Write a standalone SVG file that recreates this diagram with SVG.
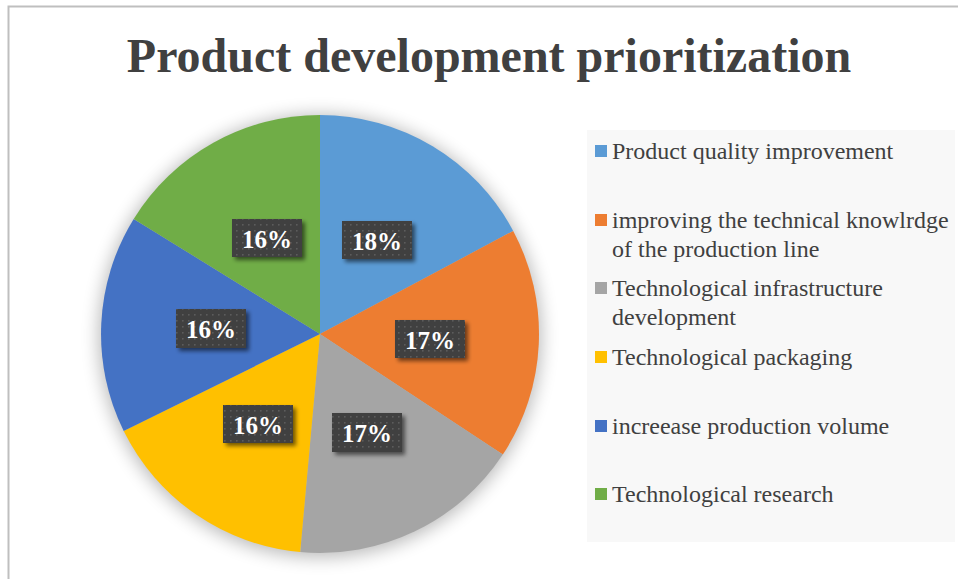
<svg xmlns="http://www.w3.org/2000/svg" width="958" height="579" viewBox="0 0 958 579">
  <style>
    .title { font-family: "Liberation Serif", "Times New Roman", serif; font-weight: bold; font-size: 48px; fill: #404040; }
    .lbl { font-family: "Liberation Serif", "Times New Roman", serif; font-weight: bold; font-size: 25px; fill: #ffffff; }
    .leg { font-family: "Liberation Serif", "Times New Roman", serif; font-size: 24px; fill: #404040; }
    .box { fill: url(#dots); filter: url(#boxShadow); }
  </style>
  <defs>
    <pattern id="dots" x="0" y="0" width="6" height="6" patternUnits="userSpaceOnUse">
      <rect width="6" height="6" fill="#404040"/>
      <rect x="2" y="2" width="1.6" height="1.6" fill="#5c5c5c"/>
    </pattern>
    <filter id="pieShadow" x="-20%" y="-20%" width="140%" height="140%">
      <feGaussianBlur stdDeviation="9"/>
    </filter>
    <filter id="boxShadow" x="-20%" y="-30%" width="150%" height="170%">
      <feGaussianBlur in="SourceAlpha" stdDeviation="2"/>
      <feOffset dx="3" dy="3" result="b"/>
      <feComponentTransfer><feFuncA type="linear" slope="0.55"/></feComponentTransfer>
      <feMerge><feMergeNode/><feMergeNode in="SourceGraphic"/></feMerge>
    </filter>
  </defs>

  <rect x="0" y="0" width="958" height="579" fill="#ffffff"/>
  <!-- chart border -->
  <path d="M8.5 579 V6.5 H958" fill="none" stroke="#bfbfbf" stroke-width="2"/>

  <text class="title" x="489" y="72" text-anchor="middle">Product development prioritization</text>

  <!-- pie shadow -->
  <circle cx="320" cy="336" r="221" fill="#000000" opacity="0.28" filter="url(#pieShadow)"/>

  <g id="pie">
    <g id="slice-quality"><path d="M320 334 L320 115 A219 219 0 0 1 513.2 230.9 Z" fill="#5B9BD5"/></g>
    <g id="slice-knowledge"><path d="M320 334 L513.2 230.9 A219 219 0 0 1 502.8 454.6 Z" fill="#ED7D31"/></g>
    <g id="slice-infrastructure"><path d="M320 334 L502.8 454.6 A219 219 0 0 1 300.2 552.1 Z" fill="#A5A5A5"/></g>
    <g id="slice-packaging"><path d="M320 334 L300.2 552.1 A219 219 0 0 1 123.7 431 Z" fill="#FFC000"/></g>
    <g id="slice-volume"><path d="M320 334 L123.7 431 A219 219 0 0 1 133.7 218.9 Z" fill="#4472C4"/></g>
    <g id="slice-research"><path d="M320 334 L133.7 218.9 A219 219 0 0 1 320 115 Z" fill="#70AD47"/></g>
  </g>

  <g id="data-labels">
    <g id="label-quality"><rect class="box" x="342" y="221" width="70" height="38"/><text class="lbl" x="377" y="250" text-anchor="middle">18%</text></g>
    <g id="label-knowledge"><rect class="box" x="395" y="320" width="70" height="38"/><text class="lbl" x="430" y="349" text-anchor="middle">17%</text></g>
    <g id="label-infrastructure"><rect class="box" x="332" y="413" width="70" height="39"/><text class="lbl" x="367" y="442" text-anchor="middle">17%</text></g>
    <g id="label-packaging"><rect class="box" x="223" y="405" width="70" height="38"/><text class="lbl" x="258" y="434" text-anchor="middle">16%</text></g>
    <g id="label-volume"><rect class="box" x="176" y="309" width="70" height="39"/><text class="lbl" x="211" y="338" text-anchor="middle">16%</text></g>
    <g id="label-research"><rect class="box" x="232" y="219" width="70" height="38"/><text class="lbl" x="267" y="248" text-anchor="middle">16%</text></g>
  </g>

  <g id="legend">
    <rect x="587" y="130" width="368" height="412" fill="#f8f8f8"/>
    <g id="leg-quality"><rect x="595" y="145" width="12" height="12" fill="#5B9BD5"/><text class="leg" x="612" y="159">Product quality improvement</text></g>
    <g id="leg-knowledge"><rect x="595" y="214" width="12" height="12" fill="#ED7D31"/><text class="leg" x="612" y="228">improving the technical knowlrdge<tspan x="612" y="257">of the production line</tspan></text></g>
    <g id="leg-infrastructure"><rect x="595" y="282" width="12" height="12" fill="#A5A5A5"/><text class="leg" x="612" y="296">Technological infrastructure<tspan x="612" y="325">development</tspan></text></g>
    <g id="leg-packaging"><rect x="595" y="351" width="12" height="12" fill="#FFC000"/><text class="leg" x="612" y="365">Technological packaging</text></g>
    <g id="leg-volume"><rect x="595" y="420" width="12" height="12" fill="#4472C4"/><text class="leg" x="612" y="434">increease production volume</text></g>
    <g id="leg-research"><rect x="595" y="488" width="12" height="12" fill="#70AD47"/><text class="leg" x="612" y="502">Technological research</text></g>
  </g>
</svg>
